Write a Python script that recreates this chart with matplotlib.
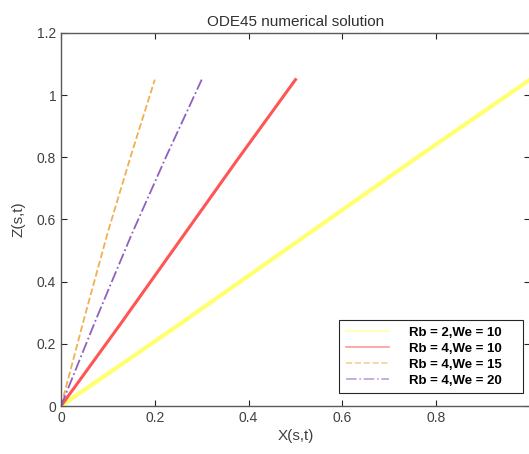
import matplotlib
matplotlib.use("Agg")
import matplotlib.pyplot as plt

plt.rcParams['font.family'] = ['Liberation Sans', 'DejaVu Sans']

# points of each solution curve (X, Z)
x_rb2_we10 = [0, 0.25, 0.5, 0.75, 1.0]
z_rb2_we10 = [0, 0.26, 0.525, 0.79, 1.05]
x_rb4_we10 = [0, 0.125, 0.25, 0.375, 0.5]
z_rb4_we10 = [0, 0.26, 0.525, 0.79, 1.05]
x_rb4_we15 = [0, 0.05, 0.1, 0.15, 0.2]
z_rb4_we15 = [0, 0.285, 0.56, 0.81, 1.05]
x_rb4_we20 = [0, 0.075, 0.15, 0.225, 0.3]
z_rb4_we20 = [0, 0.28, 0.55, 0.805, 1.05]

labels = ['Rb = 2,We = 10', 'Rb = 4,We = 10', 'Rb = 4,We = 15', 'Rb = 4,We = 20']

W, H = 529, 454
fig = plt.figure(figsize=(W / 100, H / 100), dpi=100)
# the axes box runs a little past the right edge of the picture
ax = fig.add_axes([61 / W, 1 - 406 / H, 469 / W, 373 / H])

ax.plot(x_rb2_we10, z_rb2_we10, color='#ffff70', lw=3, label=labels[0])
ax.plot(x_rb4_we10, z_rb4_we10, color='#ff5555', lw=2.2, label=labels[1])
ax.plot(x_rb4_we15, z_rb4_we15, color='#eeb050', lw=1.3, ls='--', label=labels[2])
ax.plot(x_rb4_we20, z_rb4_we20, color='#9060c0', lw=1.3, ls='-.', label=labels[3])

ax.set_xlim(0, 1)
ax.set_ylim(0, 1.2)
ax.set_xticks([0, 0.2, 0.4, 0.6, 0.8])
ax.set_xticklabels(['0', '0.2', '0.4', '0.6', '0.8'])
ax.set_yticks([0, 0.2, 0.4, 0.6, 0.8, 1, 1.2])
ax.set_yticklabels(['0', '0.2', '0.4', '0.6', '0.8', '1', '1.2'])
ax.tick_params(direction='in', top=True, right=True, length=4, width=0.8,
               labelsize=10, colors='#262626', labelcolor='#404040')
for s in ax.spines.values():
    s.set_color('#5a5a5a')
    s.set_linewidth(1.0)

ax.set_xlabel('X(s,t)', fontsize=11, color='#404040', labelpad=3)
ax.set_ylabel('Z(s,t)', fontsize=11, color='#404040', labelpad=8)
ax.set_title('ODE45 numerical solution', fontsize=11, color='#303030', pad=5)

labels_padded = [l + '    ' for l in labels]
leg = ax.legend(ax.get_lines(), labels_padded, loc='upper right',
                bbox_to_anchor=(523 / W, 1 - 320 / H),
                bbox_transform=fig.transFigure,
                fancybox=False, edgecolor='#262626', framealpha=1,
                handlelength=3.3, handletextpad=1.5, labelspacing=0.28,
                borderpad=0.5, borderaxespad=0,
                prop={'weight': 'bold', 'size': 9.5})
leg.get_frame().set_linewidth(0.8)
for h in leg.get_lines():
    h.set_alpha(0.6)
    h.set_linewidth(1.2)

fig.savefig('out.png', dpi=100)
